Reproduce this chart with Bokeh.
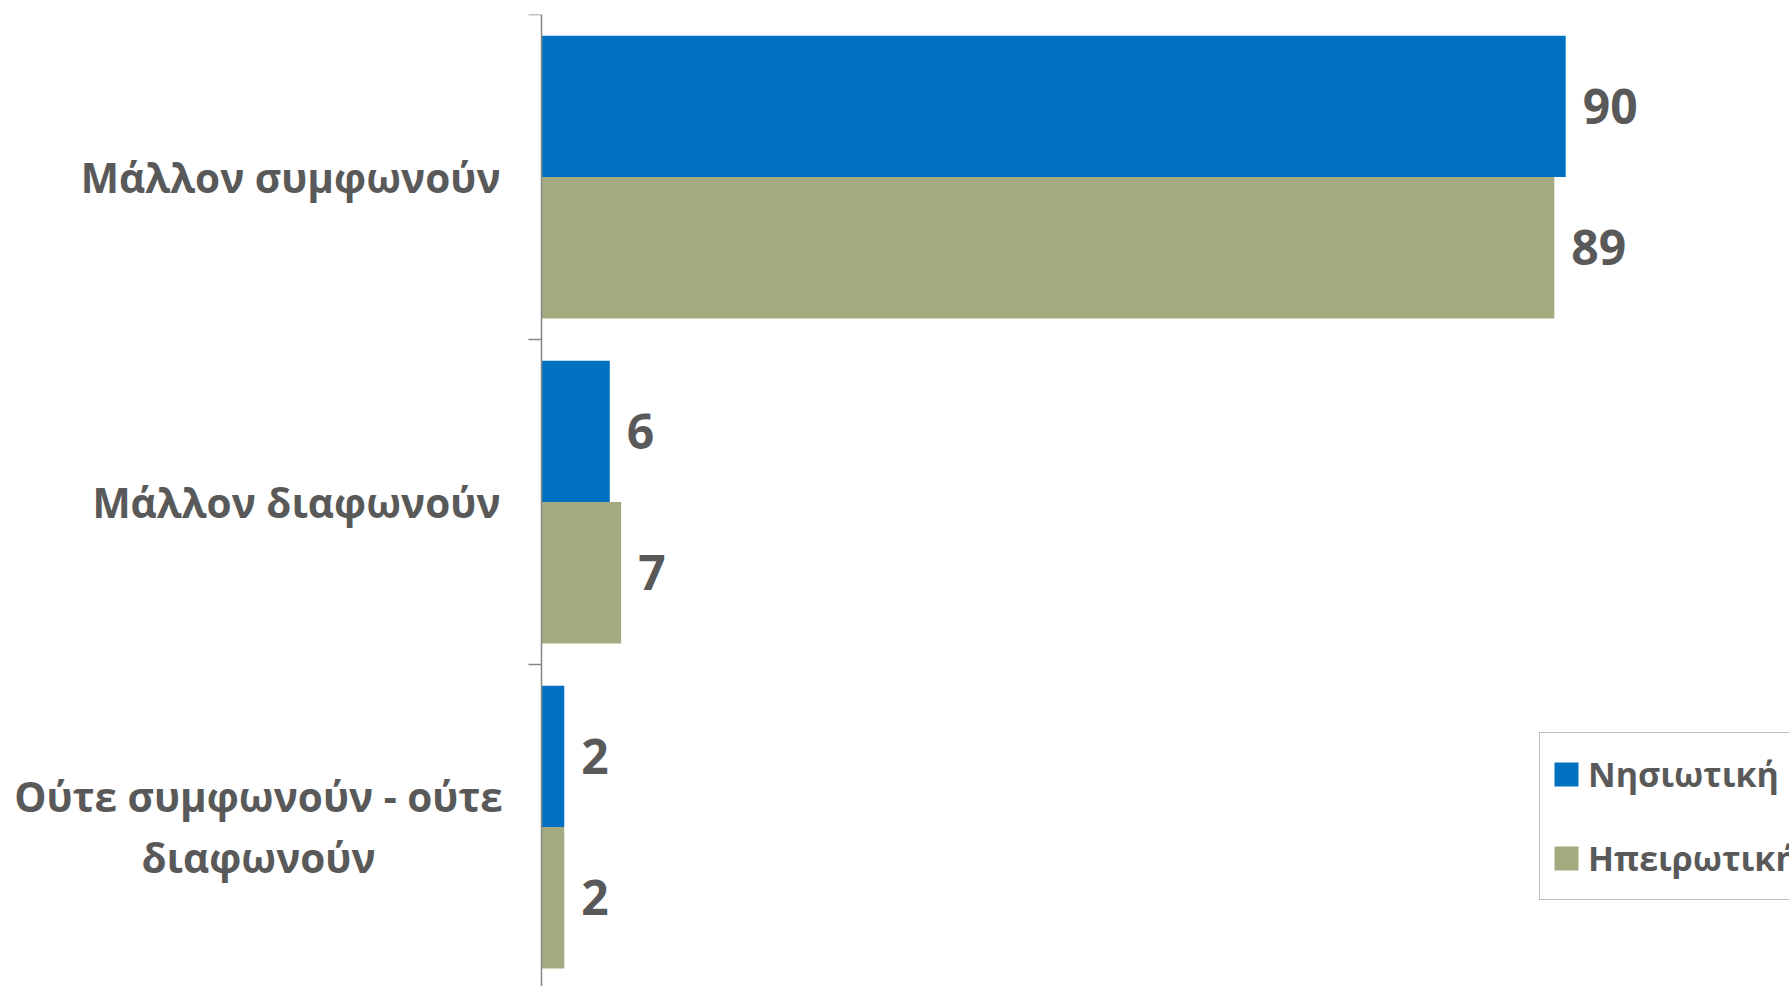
from bokeh.plotting import figure
from bokeh.models import (Range1d, FixedTicker, LinearAxis, ColumnDataSource, Legend, LegendItem)
from bokeh.core.properties import value
from bokeh.embed import file_html
from bokeh.resources import INLINE

# ---- data ----
categories = ["Μάλλον συμφωνούν", "Μάλλον διαφωνούν", "Ούτε συμφωνούν - ούτε\nδιαφωνούν"]
series_names = ["Νησιωτική", "Ηπειρωτική"]
nisiotiki = [90, 6, 2]
ipeirotiki = [89, 7, 2]

BLUE = "#0070C0"
GREEN = "#A5AB81"
TXT = "#595959"
AXIS = "#868686"
FONT = "Open Sans"

W, H = 1789, 986
AXIS_X = 541       # screen x of the value axis
TOP = 14
RIGHT_BORDER = 0
frame_w = W - RIGHT_BORDER
frame_h = H - TOP
band_px = 325.0
px_per_unit = 11.38

n = len(categories)
centers = [n - i - 0.5 for i in range(n)]
half = 0.435
x0 = -AXIS_X / px_per_unit

p = figure(width=W, height=H, output_backend="svg", toolbar_location=None,
           x_range=Range1d(x0, x0 + frame_w / px_per_unit),
           y_range=Range1d(n - frame_h / band_px, n),
           x_axis_location=None, y_axis_location=None,
           min_border_left=0, min_border_top=TOP, min_border_bottom=0,
           min_border_right=RIGHT_BORDER)
p.outline_line_color = None
p.xgrid.visible = False
p.ygrid.visible = False
p.background_fill_color = "white"
p.border_fill_color = "white"

ax = LinearAxis(fixed_location=0, ticker=FixedTicker(ticks=list(range(n + 1))))
ax.major_label_overrides = {i: "" for i in range(n + 1)}
ax.major_label_text_font_size = "1px"
ax.major_label_standoff = 0
ax.major_tick_out = 0
ax.major_tick_in = 13
ax.minor_tick_line_color = None
ax.axis_line_color = AXIS
ax.axis_line_width = 1.5
ax.major_tick_line_color = AXIS
ax.major_tick_line_width = 1.5
p.add_layout(ax, "right")

src1 = ColumnDataSource(dict(y=[c + half / 2 for c in centers], v=nisiotiki,
                             t=[str(v) for v in nisiotiki]))
src2 = ColumnDataSource(dict(y=[c - half / 2 for c in centers], v=ipeirotiki,
                             t=[str(v) for v in ipeirotiki]))

r1 = p.hbar(y="y", right="v", left=0, height=half, source=src1, fill_color=BLUE, line_color=None)
r2 = p.hbar(y="y", right="v", left=0, height=half, source=src2, fill_color=GREEN, line_color=None)

for s in (src1, src2):
    p.text(x="v", y="y", text="t", source=s, x_offset=17, text_align="left",
           text_baseline="middle", text_font=value(FONT), text_font_style="bold",
           text_font_size="48px", text_color=TXT)

# category labels
single = [i for i, c in enumerate(categories) if "\n" not in c]
multi = [i for i, c in enumerate(categories) if "\n" in c]
cs1 = ColumnDataSource(dict(x=[0] * len(single), y=[centers[i] for i in single],
                            t=[categories[i] for i in single]))
cs2 = ColumnDataSource(dict(x=[0] * len(multi), y=[centers[i] for i in multi],
                            t=[categories[i] for i in multi]))
p.text(x="x", y="y", text="t", source=cs1, x_offset=-41, text_align="right",
       text_baseline="middle", text_font=value(FONT), text_font_style="bold",
       text_font_size="40.5px", text_color=TXT)
p.text(x="x", y="y", text="t", source=cs2, x_offset=-283, text_align="center",
       text_baseline="middle", text_font=value(FONT), text_font_style="bold",
       text_font_size="40.5px", text_color=TXT, text_line_height=1.1)

legend = Legend(items=[LegendItem(label=series_names[0], renderers=[r1]),
                       LegendItem(label=series_names[1], renderers=[r2])],
                location=(1539, H - 900))
legend.label_text_font = FONT
legend.label_text_font_style = "bold"
legend.label_text_font_size = "34px"
legend.label_text_color = TXT
legend.glyph_width = 30
legend.glyph_height = 30
legend.label_height = 60
legend.spacing = 24
legend.padding = 11
legend.margin = 0
legend.label_standoff = 7
legend.border_line_color = "#7F7F7F"
legend.border_line_width = 1.5
legend.background_fill_color = "white"
legend.background_fill_alpha = 1
p.add_layout(legend, "center")

open("out.html", "w").write(file_html(p, INLINE))
